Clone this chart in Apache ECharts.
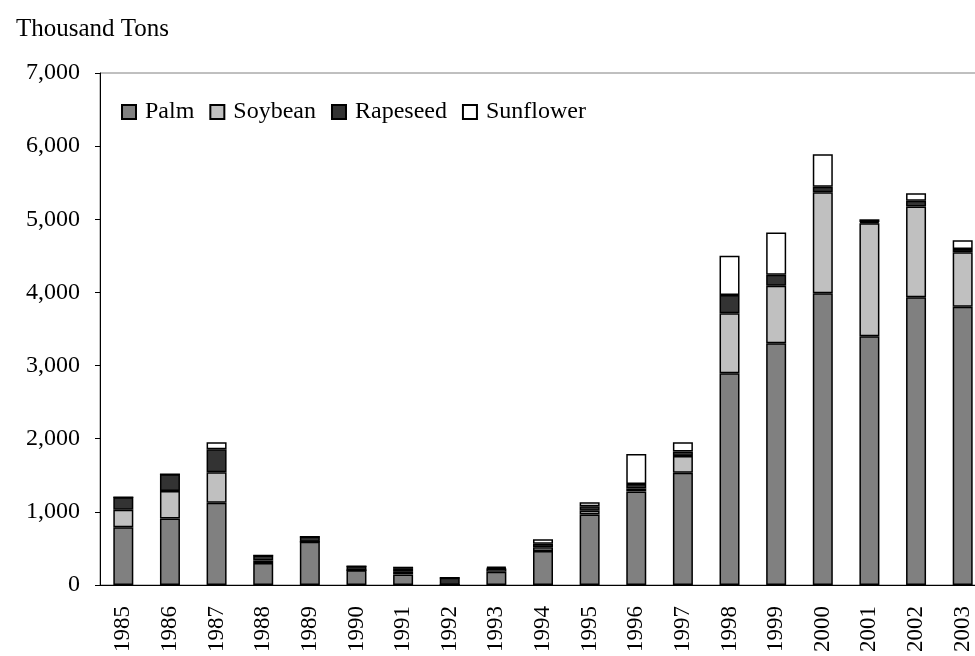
<!DOCTYPE html>
<html>
<head>
<meta charset="utf-8">
<script src="https://cdn.jsdelivr.net/npm/echarts@6/dist/echarts.min.js"></script>
<style>
  html, body { margin: 0; padding: 0; background: #fff; overflow: hidden; }
  /* 比窗口宽一点, 右边被裁掉 (与原图一致) */
  #chart { width: 990px; height: 656px; }
</style>
</head>
<body>
<div id="chart"></div>
<script>
// 年份
const years = ['1985', '1986', '1987', '1988', '1989', '1990', '1991', '1992', '1993', '1994',
  '1995', '1996', '1997', '1998', '1999', '2000', '2001', '2002', '2003']
// 各油种 (千吨)
const palm = [790, 910, 1125, 300, 590, 200, 145, 5, 180, 465, 965, 1280, 1535, 2895, 3305, 3990, 3400, 3935, 3805]
const soybean = [240, 375, 415, 35, 0, 0, 35, 0, 45, 50, 50, 40, 230, 820, 785, 1380, 1545, 1240, 745]
const rapeseed = [170, 230, 315, 70, 70, 55, 40, 95, 10, 50, 60, 60, 60, 250, 150, 75, 15, 80, 45]
const sunflower = [0, 0, 95, 0, 0, 0, 30, 0, 15, 60, 55, 410, 125, 535, 580, 445, 40, 100, 120]
const yTicks = [0, 1000, 2000, 3000, 4000, 5000, 6000, 7000]

const serif = 'Liberation Serif'
const chart = echarts.init(document.getElementById('chart'))

function barSeries(name, data, color) {
  return {
    name: name,
    type: 'bar',
    stack: 'total',
    barWidth: 20,
    data: data,
    itemStyle: {
      color: color,
      borderColor: '#000',
      borderWidth: 1.5,
    },
  }
}

const option = {
  animation: false,
  title: {
    text: 'Thousand Tons',
    left: 11,
    top: 12,
    textStyle: { fontFamily: serif, fontSize: 25, fontWeight: 'normal', color: '#000' },
  },
  legend: {
    left: 116,
    top: 95,
    icon: 'rect',
    itemWidth: 14,
    itemHeight: 14,
    itemGap: 15,
    textStyle: { fontFamily: serif, fontSize: 24, color: '#000', padding: [0, 0, 0, 4] },
  },
  grid: {
    left: 100,
    top: 73,
    right: 4,
    bottom: 71,
    show: true,
    borderColor: '#808080',
    borderWidth: 1,
  },
  xAxis: {
    type: 'category',
    data: years,
    axisLine: { lineStyle: { color: '#000', width: 1 } },
    axisTick: { lineStyle: { color: '#000' }, length: 6 },
    axisLabel: {
      rotate: 90,
      margin: 21,
      fontFamily: serif,
      fontSize: 23,
      color: '#000',
    },
  },
  yAxis: {
    type: 'value',
    min: yTicks[0],
    max: yTicks[yTicks.length - 1],
    interval: 1000,
    axisLine: { show: true, lineStyle: { color: '#000', width: 1 } },
    axisTick: { show: true, lineStyle: { color: '#000' }, length: 5 },
    splitLine: { show: false },
    axisLabel: {
      margin: 20,
      fontFamily: serif,
      fontSize: 24,
      color: '#000',
      formatter: (v) => v.toLocaleString('en-US'),
    },
  },
  series: [
    barSeries('Palm', palm, '#808080'),
    barSeries('Soybean', soybean, '#c0c0c0'),
    barSeries('Rapeseed', rapeseed, '#333333'),
    barSeries('Sunflower', sunflower, '#ffffff'),
  ],
}
chart.setOption(option)
</script>
</body>
</html>
